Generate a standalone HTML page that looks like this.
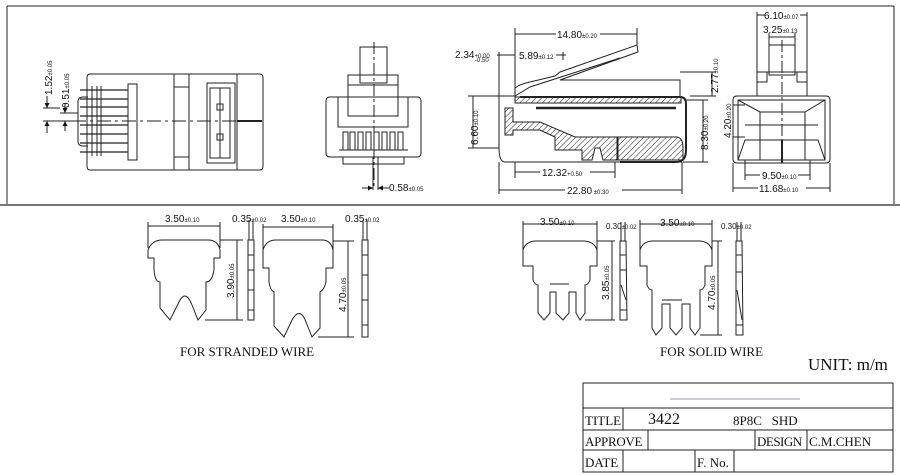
<!DOCTYPE html>
<html><head><meta charset="utf-8"><style>
html,body{margin:0;padding:0;background:#fff;width:900px;height:475px;overflow:hidden}
svg{display:block}
.t{font-family:"Liberation Sans",sans-serif;font-size:10px;fill:#111}
.s{font-family:"Liberation Sans",sans-serif;font-size:6px;fill:#111}
.r{font-family:"Liberation Serif",serif;fill:#111}
</style></head><body>
<svg width="900" height="475" viewBox="0 0 900 475" xmlns="http://www.w3.org/2000/svg">
<defs>
<pattern id="h" width="4" height="4" patternUnits="userSpaceOnUse" patternTransform="rotate(45)"><line x1="0" y1="0" x2="0" y2="4" stroke="#222" stroke-width="1"/></pattern>
<marker id="a" viewBox="0 0 6 6" refX="6" refY="3" markerWidth="5" markerHeight="5" orient="auto-start-reverse"><path d="M0,0L6,3L0,6z" fill="#111"/></marker>
</defs>
<g fill="none" stroke="#222" stroke-width="1">
<line x1="7" y1="6" x2="894" y2="6"/>
<line x1="7" y1="6" x2="7" y2="205"/>
<line x1="894" y1="6" x2="894" y2="205"/>
<line x1="0" y1="205" x2="900" y2="205" stroke="#777" stroke-width="2"/>

<path d="M90,74H260Q263,74 263,78V166Q263,170 260,170H90Q87,170 87,166V78Q87,74 90,74Z"/>
<line x1="174" y1="74" x2="174" y2="170"/><line x1="189" y1="74" x2="189" y2="170"/><line x1="237" y1="74" x2="237" y2="170"/>
<line x1="174" y1="87" x2="189" y2="87"/><line x1="174" y1="157" x2="189" y2="157"/>
<rect x="207" y="83" width="28" height="80"/><rect x="210" y="88" width="20" height="70"/>
<line x1="220" y1="88" x2="220" y2="158"/>
<rect x="217" y="104" width="6" height="6"/><rect x="217" y="134" width="6" height="6"/>
<rect x="128" y="84" width="9" height="76"/>
<path d="M88,97H83Q78,97 78,102V141Q78,146 83,146H88"/>
<g stroke-width="1.2">
<line x1="80" y1="90" x2="128" y2="90"/><line x1="80" y1="99" x2="128" y2="99"/><line x1="80" y1="107" x2="128" y2="107"/><line x1="80" y1="116" x2="128" y2="116"/><line x1="80" y1="125" x2="128" y2="125"/><line x1="80" y1="134" x2="128" y2="134"/><line x1="80" y1="143" x2="128" y2="143"/><line x1="80" y1="152" x2="128" y2="152"/>
</g>
<line x1="92" y1="86" x2="92" y2="156"/><line x1="97" y1="86" x2="97" y2="156"/><line x1="101" y1="86" x2="101" y2="156"/>
<line x1="72" y1="121" x2="262" y2="121" stroke-dasharray="14,4,3,4"/>
<line x1="237" y1="121" x2="262" y2="121" stroke-width="2"/>
<line x1="43" y1="108" x2="60" y2="108"/><line x1="43" y1="121" x2="60" y2="121"/>
<line x1="47" y1="96" x2="47" y2="108" marker-end="url(#a)"/><line x1="47" y1="133" x2="47" y2="121" marker-end="url(#a)"/>
<line x1="60" y1="113" x2="78" y2="113"/><line x1="60" y1="121" x2="78" y2="121"/>
<line x1="65" y1="103" x2="65" y2="113" marker-end="url(#a)"/><line x1="65" y1="131" x2="65" y2="121" marker-end="url(#a)"/>

<rect x="360" y="47" width="27" height="36"/>
<rect x="348" y="75" width="50" height="10"/>
<rect x="348" y="85" width="50" height="31"/>
<path d="M330,97H417Q421,97 421,101V153Q421,157 417,157H330Q326,157 326,153V101Q326,97 330,97Z"/>
<path d="M338,97V127H408V97"/>
<path d="M343,150V132h5v18M350,150V132h5v18M358,150V132h5v18M366,150V132h5v18M374,150V132h5v18M382,150V132h5v18M390,150V132h5v18M398,150V132h5v18"/>
<line x1="339" y1="150" x2="408" y2="150"/>
<path d="M343,157V164H404V157"/>
<line x1="374" y1="42" x2="374" y2="188" stroke-dasharray="12,3,3,3"/>
<line x1="373" y1="157" x2="373" y2="190"/><line x1="378" y1="157" x2="378" y2="190"/>
<line x1="362" y1="188" x2="373" y2="188" marker-end="url(#a)"/><line x1="389" y1="188" x2="378" y2="188" marker-end="url(#a)"/>

<path d="M499,96H515V88Q520,84 530,82L555,76L560,72L637,45L638,52L560,80H680V96"/>
<path d="M515,96L530,87L620,58"/>
<rect x="515" y="97" width="166" height="6" fill="url(#h)"/>
<path d="M520,97H680Q686,97 686,104V150Q686,162 676,162H620" stroke-width="2" fill="none"/>
<line x1="536" y1="108" x2="676" y2="108" stroke-width="2.5"/>
<path d="M505,108H513V122H540L575,137H617V160H603L600,148H595L592,160H582V150H555V137L540,130H513V135H505Z" fill="url(#h)"/>
<path d="M618,137H676Q683,137 683,148V160H618Z" fill="url(#h)"/>
<path d="M499,96V148Q499,162 505,162"/>
<line x1="505" y1="162" x2="682" y2="162"/>

<line x1="515" y1="28" x2="515" y2="96"/><line x1="637" y1="28" x2="637" y2="45"/>
<line x1="515" y1="34" x2="556" y2="34"/><line x1="600" y1="34" x2="637" y2="34"/>
<line x1="499" y1="52" x2="499" y2="96"/><line x1="497" y1="55" x2="515" y2="55"/><line x1="563" y1="52" x2="563" y2="60"/><line x1="556" y1="55" x2="566" y2="55"/>
<line x1="680" y1="72" x2="716" y2="72"/><line x1="690" y1="96" x2="716" y2="96"/><line x1="712" y1="72" x2="712" y2="96"/>
<line x1="468" y1="96" x2="499" y2="96"/><line x1="468" y1="148" x2="499" y2="148"/><line x1="473" y1="96" x2="473" y2="148"/>
<line x1="686" y1="100" x2="708" y2="100"/><line x1="683" y1="162" x2="708" y2="162"/><line x1="703" y1="100" x2="703" y2="162"/>
<line x1="515" y1="162" x2="515" y2="178"/><line x1="615" y1="162" x2="615" y2="178"/><line x1="515" y1="172" x2="540" y2="172"/><line x1="590" y1="172" x2="615" y2="172"/>
<line x1="499" y1="162" x2="499" y2="194"/><line x1="682" y1="162" x2="682" y2="194"/><line x1="499" y1="190" x2="565" y2="190"/><line x1="622" y1="190" x2="682" y2="190"/>

<rect x="769" y="45" width="26" height="30"/>
<rect x="757" y="72" width="50" height="24"/>
<rect x="757" y="72" width="10" height="10"/><rect x="797" y="72" width="10" height="10"/>
<path d="M737,96H826Q830,96 830,100V159Q830,163 826,163H737Q733,163 733,159V100Q733,96 737,96Z"/>
<rect x="738" y="100" width="87" height="60"/>
<path d="M738,100L760,112H805L825,100M760,112V160M805,112V160M738,160L745,140H818L825,160M745,125H818"/>
<line x1="782" y1="40" x2="782" y2="165" stroke-dasharray="12,3,3,3"/>
<line x1="782" y1="140" x2="782" y2="163" stroke-width="2"/>
<line x1="757" y1="12" x2="757" y2="72"/><line x1="807" y1="12" x2="807" y2="72"/><line x1="757" y1="15" x2="765" y2="15"/><line x1="800" y1="15" x2="807" y2="15"/>
<line x1="769" y1="33" x2="769" y2="45"/><line x1="795" y1="33" x2="795" y2="45"/><line x1="769" y1="37" x2="795" y2="37"/>
<line x1="733" y1="105" x2="745" y2="105"/><line x1="733" y1="137" x2="745" y2="137"/><line x1="733" y1="105" x2="733" y2="137"/>
<line x1="745" y1="160" x2="745" y2="180"/><line x1="810" y1="160" x2="810" y2="180"/><line x1="745" y1="175" x2="760" y2="175"/><line x1="798" y1="175" x2="810" y2="175"/>
<line x1="733" y1="163" x2="733" y2="192"/><line x1="830" y1="163" x2="830" y2="192"/><line x1="733" y1="188" x2="758" y2="188"/><line x1="806" y1="188" x2="830" y2="188"/>

<path d="M148,258V250Q152,240 162,240H208Q218,240 220,250V258H214V270Q212,282 206,282V310L198,320L192,305Q186,290 180,300L170,320L160,308V282Q155,282 154,270V258Z"/>
<line x1="148" y1="222" x2="148" y2="248"/><line x1="220" y1="222" x2="220" y2="248"/><line x1="148" y1="226" x2="220" y2="226"/>
<line x1="220" y1="240" x2="243" y2="240"/><line x1="205" y1="320" x2="243" y2="320"/><line x1="237" y1="240" x2="237" y2="320"/>
<rect x="248" y="240" width="6" height="80"/><line x1="248" y1="255" x2="254" y2="255"/><line x1="248" y1="270" x2="254" y2="270"/><line x1="248" y1="290" x2="254" y2="290"/><line x1="248" y1="310" x2="254" y2="310"/>
<line x1="249" y1="220" x2="249" y2="240"/><line x1="253" y1="220" x2="253" y2="240"/>
<path d="M263,268V250Q266,240 276,240H322Q331,240 333,250V268H326V282Q324,290 320,292V328L312,337L306,322Q300,306 292,320L284,337L274,326V292Q270,290 269,282V268Z"/>
<line x1="263" y1="224" x2="263" y2="250"/><line x1="333" y1="224" x2="333" y2="250"/><line x1="263" y1="227" x2="333" y2="227"/>
<line x1="333" y1="241" x2="354" y2="241"/><line x1="318" y1="337" x2="354" y2="337"/><line x1="348" y1="241" x2="348" y2="337"/>
<rect x="362" y="240" width="6" height="97"/><line x1="362" y1="255" x2="368" y2="255"/><line x1="362" y1="275" x2="368" y2="275"/><line x1="362" y1="300" x2="368" y2="300"/><line x1="362" y1="325" x2="368" y2="325"/>
<line x1="363" y1="220" x2="363" y2="240"/><line x1="367" y1="220" x2="367" y2="240"/>

<path d="M523,266V250Q526,241 536,241H583Q594,241 597,250V266H590V280Q588,285 585,285V313L580,320L576,313V292H569V313L563,320L556,313V292H550V313L544,320L538,313V285Q535,285 533,280V266Z"/>
<line x1="550" y1="284" x2="569" y2="284"/>
<line x1="523" y1="221" x2="523" y2="250"/><line x1="597" y1="221" x2="597" y2="250"/><line x1="523" y1="224" x2="597" y2="224"/>
<line x1="597" y1="241" x2="615" y2="241"/><line x1="585" y1="320" x2="615" y2="320"/><line x1="612" y1="241" x2="612" y2="320"/>
<path d="M620,241H626L627,320H620Z"/><line x1="620" y1="255" x2="626" y2="255"/><line x1="620" y1="270" x2="626" y2="270"/><line x1="621" y1="285" x2="626" y2="300"/><line x1="620" y1="310" x2="627" y2="310"/>
<line x1="621" y1="222" x2="621" y2="241"/><line x1="625" y1="222" x2="625" y2="241"/>
<path d="M640,266V250Q643,241 653,241H699Q709,241 712,250V266H705V285Q703,290 700,290V328L695,335L690,328V304H682V328L676,335L670,328V304H662V328L656,335L652,328V290Q649,290 647,285V266Z"/>
<line x1="662" y1="300" x2="682" y2="300"/>
<line x1="640" y1="220" x2="640" y2="250"/><line x1="712" y1="220" x2="712" y2="250"/><line x1="640" y1="224" x2="712" y2="224"/>
<line x1="712" y1="241" x2="722" y2="241"/><line x1="700" y1="335" x2="722" y2="335"/><line x1="718" y1="241" x2="718" y2="335"/>
<path d="M736,241H742L743,335H736Z"/><line x1="736" y1="255" x2="742" y2="255"/><line x1="736" y1="272" x2="742" y2="272"/><line x1="737" y1="290" x2="742" y2="320"/><line x1="736" y1="325" x2="743" y2="325"/>
<line x1="737" y1="222" x2="737" y2="241"/><line x1="741" y1="222" x2="741" y2="241"/>

<rect x="583" y="383" width="310" height="89"/>
<line x1="583" y1="408" x2="893" y2="408"/><line x1="583" y1="430" x2="893" y2="430"/><line x1="583" y1="450" x2="893" y2="450"/>
<line x1="623" y1="408" x2="623" y2="430"/>
<line x1="648" y1="430" x2="648" y2="450"/><line x1="755" y1="430" x2="755" y2="450"/><line x1="807" y1="430" x2="807" y2="450"/>
<line x1="623" y1="450" x2="623" y2="472"/><line x1="695" y1="450" x2="695" y2="472"/><line x1="734" y1="450" x2="734" y2="472"/>
</g>
<line x1="670" y1="399" x2="800" y2="399" stroke="#ccd" stroke-width="2"/>

<g fill="#111">
<text class="t" transform="translate(52,95) rotate(-90)">1.52<tspan class="s">±0.05</tspan></text>
<text class="t" transform="translate(69,108) rotate(-90)">0.51<tspan class="s">±0.05</tspan></text>
<text class="t" x="389" y="191">0.58<tspan class="s">±0.05</tspan></text>
<text class="t" x="557" y="38">14.80<tspan class="s">±0.20</tspan></text>
<text class="t" x="455" y="58">2.34<tspan class="s">+0.00</tspan></text>
<text class="s" x="475" y="62">-0.50</text>
<text class="t" x="519" y="59">5.89<tspan class="s">±0.12</tspan></text>
<text class="t" transform="translate(718,93) rotate(-90)">2.77<tspan class="s">±0.10</tspan></text>
<text class="t" transform="translate(478,145) rotate(-90)">6.60<tspan class="s">±0.10</tspan></text>
<text class="t" transform="translate(708,150) rotate(-90)">8.30<tspan class="s">±0.20</tspan></text>
<text class="t" x="542" y="176">12.32<tspan class="s">+0.50</tspan></text>
<text class="t" x="567" y="194">22.80<tspan class="s"> ±0.30</tspan></text>
<text class="t" x="764" y="19">6.10<tspan class="s">±0.07</tspan></text>
<text class="t" x="763" y="33">3.25<tspan class="s">±0.13</tspan></text>
<text class="t" transform="translate(731,138) rotate(-90)">4.20<tspan class="s">±0.20</tspan></text>
<text class="t" x="762" y="179">9.50<tspan class="s">±0.10</tspan></text>
<text class="t" x="759" y="192">11.68<tspan class="s">±0.10</tspan></text>
<text class="t" x="165" y="222">3.50<tspan class="s">±0.10</tspan></text>
<text class="t" x="232" y="222">0.35<tspan class="s">±0.02</tspan></text>
<text class="t" x="281" y="222">3.50<tspan class="s">±0.10</tspan></text>
<text class="t" x="345" y="222">0.35<tspan class="s">±0.02</tspan></text>
<text class="t" transform="translate(234,298) rotate(-90)">3.90<tspan class="s">±0.05</tspan></text>
<text class="t" transform="translate(346,312) rotate(-90)">4.70<tspan class="s">±0.05</tspan></text>
<text class="t" x="540" y="225">3.50<tspan class="s">±0.10</tspan></text>
<text class="s" x="606" y="229" style="font-size:8px">0.30<tspan class="s">±0.02</tspan></text>
<text class="t" x="660" y="226">3.50<tspan class="s">±0.10</tspan></text>
<text class="s" x="721" y="229" style="font-size:8px">0.30<tspan class="s">±0.02</tspan></text>
<text class="t" transform="translate(609,300) rotate(-90)">3.85<tspan class="s">±0.05</tspan></text>
<text class="t" transform="translate(715,310) rotate(-90)">4.70<tspan class="s">±0.05</tspan></text>
<text class="r" x="180" y="356" font-size="13">FOR STRANDED WIRE</text>
<text class="r" x="660" y="356" font-size="13">FOR SOLID WIRE</text>
<text class="r" x="808" y="370" font-size="17">UNIT: m/m</text>
<text class="r" x="585" y="425" font-size="13">TITLE</text>
<text class="r" x="648" y="424" font-size="16">3422</text>
<text class="r" x="733" y="425" font-size="13">8P8C&#160;&#160;&#160;SHD</text>
<text class="r" x="585" y="446" font-size="13" letter-spacing="-0.3">APPROVE</text>
<text class="r" x="757" y="446" font-size="13" letter-spacing="-0.5">DESIGN</text>
<text class="r" x="809" y="446" font-size="13">C.M.CHEN</text>
<text class="r" x="585" y="467" font-size="13">DATE</text>
<text class="r" x="697" y="467" font-size="13">F. No.</text>
</g>
</svg>
</body></html>
